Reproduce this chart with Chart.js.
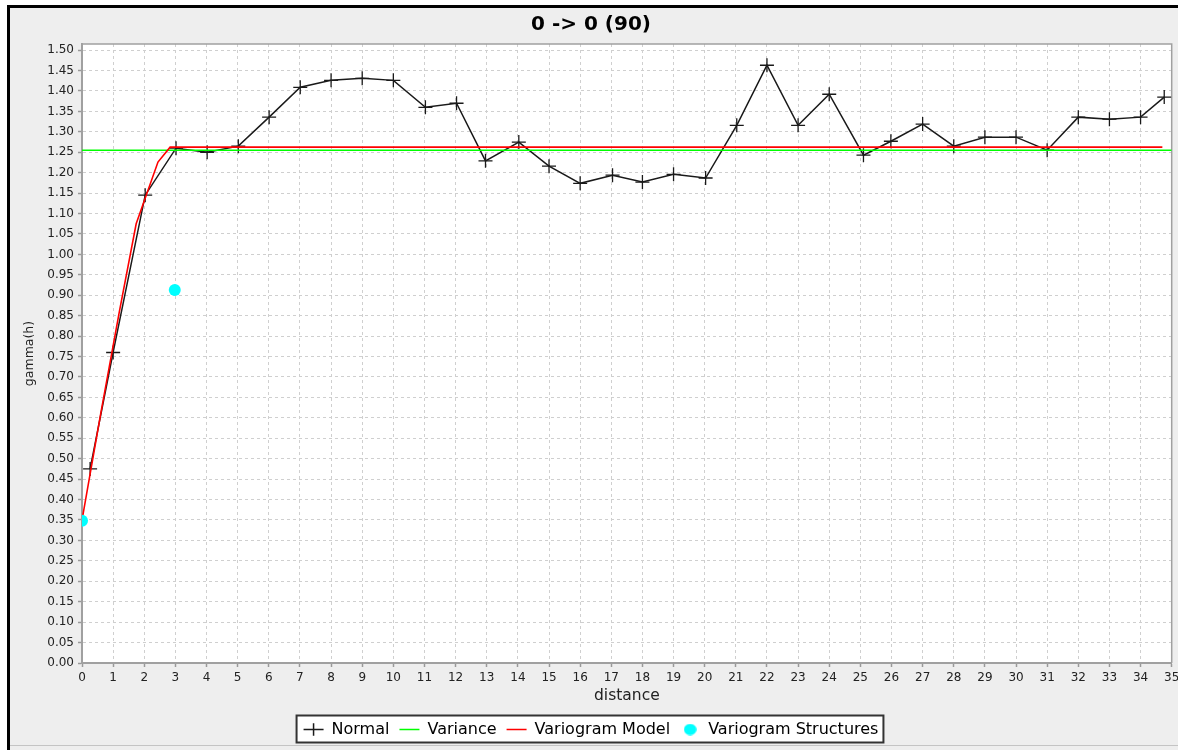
<!DOCTYPE html>
<html>
<head>
<meta charset="utf-8">
<title>Variogram 0 -> 0 (90)</title>
<script src="https://cdn.jsdelivr.net/npm/chart.js@4.4.1/dist/chart.umd.min.js"></script>
<style>
    html, body { margin: 0; padding: 0; background: #ffffff; }
    #frame {
        position: absolute; left: 7px; top: 5px;
        width: 1168px; height: 742px;
        border-left: 3px solid #000; border-top: 3px solid #000;
        background: #eeeeee; overflow: hidden;
    }
    #bottomLine { position: absolute; left: 0; top: 737px; width: 1168px; height: 1px; background: #c4c4c4; }
    #chart { position: absolute; left: 0; top: 0; }
</style>
</head>
<body>
<div id="frame">
    <div id="bottomLine"></div>
    <canvas id="chart" width="1170" height="742"></canvas>
</div>
<script>
// Experimental variogram (lag distance / gamma)
const lagDistance = [0.26, 1.0, 2.03, 3.02, 4.02, 5.02, 6.01, 7.01, 8.0, 9.0, 10.0, 11.03,
    12.03, 12.96, 14.03, 15.0, 16.0, 17.04, 18.0, 19.0, 20.03, 21.03, 22.0, 23.0,
    24.0, 25.1, 25.98, 27.0, 28.0, 29.0, 30.0, 31.0, 32.0, 33.0, 34.0, 34.76];
const gammaNormal = [0.475, 0.76, 1.145, 1.26, 1.25, 1.265, 1.336, 1.409, 1.426, 1.431, 1.426, 1.36,
    1.37, 1.229, 1.275, 1.216, 1.174, 1.194, 1.177, 1.196, 1.187, 1.316, 1.463, 1.316,
    1.392, 1.243, 1.277, 1.319, 1.265, 1.287, 1.287, 1.255, 1.336, 1.331, 1.336, 1.385];

// Sample variance
const varianceX = [0, 35];
const varianceY = [1.255, 1.255];

// Fitted model curve
const modelX = [0, 0.6, 1.2, 1.74, 2.44, 2.83, 34.7];
const modelY = [0.35, 0.61, 0.86, 1.075, 1.226, 1.2625, 1.2625];

// Structure markers
const structureX = [0, 2.98];
const structureY = [0.348, 0.913];

// Axis ticks
const xTickStep = 1;
const yTickStep = 0.05;
const yTickCount = 31; // 0.00 .. 1.50

const seriesLabels = ['Normal', 'Variance', 'Variogram Model', 'Variogram Structures'];

Chart.defaults.font.family = "'DejaVu Sans', sans-serif";
Chart.defaults.color = '#222';

function toPoints(xs, ys) {
    return xs.map((x, i) => ({ x: x, y: ys[i] }));
}

// small cyan dot for the legend
const dotIcon = document.createElement('canvas');
dotIcon.width = 13;
dotIcon.height = 12;
(function () {
    const c = dotIcon.getContext('2d');
    c.fillStyle = '#00ffff';
    c.beginPath();
    c.ellipse(6.5, 6, 6.3, 5.8, 0, 0, Math.PI * 2);
    c.fill();
})();

// white plot background, legend box, top/right frame
const plotFrame = {
    id: 'plotFrame',
    beforeDraw(chart) {
        const { ctx, chartArea: a } = chart;
        ctx.save();
        ctx.fillStyle = '#ffffff';
        ctx.fillRect(a.left, a.top, a.right - a.left, a.bottom - a.top);

        const boxes = chart.legend.legendHitBoxes;
        if (boxes && boxes.length) {
            const left = Math.min(...boxes.map(b => b.left)) - 7;
            const right = Math.max(...boxes.map(b => b.left + b.width)) + 5;
            const top = boxes[0].top - 6;
            const bottom = boxes[0].top + boxes[0].height + 5;
            ctx.fillStyle = '#ffffff';
            ctx.fillRect(left, top, right - left, bottom - top);
            ctx.strokeStyle = '#333';
            ctx.lineWidth = 2;
            ctx.strokeRect(left, top, right - left, bottom - top);
        }
        ctx.restore();
    },
    beforeDatasetsDraw(chart) {
        const { ctx, chartArea: a } = chart;
        ctx.save();
        ctx.strokeStyle = '#a0a0a0';
        ctx.lineWidth = 1.5;
        ctx.beginPath();
        ctx.moveTo(a.left, a.top);
        ctx.lineTo(a.right, a.top);
        ctx.lineTo(a.right, a.bottom);
        ctx.stroke();
        ctx.restore();
    }
};

const legendStyles = ['cross', 'line', 'line', dotIcon];

new Chart(document.getElementById('chart'), {
    type: 'scatter',
    data: {
        datasets: [
            {
                label: seriesLabels[0],
                data: toPoints(lagDistance, gammaNormal),
                showLine: true,
                borderColor: '#1a1a1a',
                backgroundColor: '#1a1a1a',
                borderWidth: 1.5,
                pointStyle: 'cross',
                pointRadius: 7,
                pointHoverRadius: 7,
                pointBorderWidth: 1.3,
                order: 3
            },
            {
                label: seriesLabels[1],
                data: toPoints(varianceX, varianceY),
                showLine: true,
                borderColor: '#00ff00',
                backgroundColor: '#00ff00',
                borderWidth: 1.6,
                pointRadius: 0,
                pointHoverRadius: 0,
                order: 2
            },
            {
                label: seriesLabels[2],
                data: toPoints(modelX, modelY),
                showLine: true,
                borderColor: '#ff0000',
                backgroundColor: '#ff0000',
                borderWidth: 1.6,
                pointRadius: 0,
                pointHoverRadius: 0,
                order: 1
            },
            {
                label: seriesLabels[3],
                data: toPoints(structureX, structureY),
                showLine: false,
                borderColor: '#00ffff',
                backgroundColor: '#00ffff',
                pointStyle: 'circle',
                pointRadius: 6,
                pointHoverRadius: 6,
                borderWidth: 0,
                clip: 0,
                order: 0
            }
        ]
    },
    options: {
        responsive: false,
        animation: false,
        layout: {
            padding: { left: 0, right: 8, top: 0, bottom: 2.5 }
        },
        scales: {
            x: {
                type: 'linear',
                min: 0,
                max: 35,
                afterFit: (scale) => {
                    scale.height = 48.5;
                    scale.paddingRight = 0;
                },
                ticks: {
                    stepSize: xTickStep,
                    maxRotation: 0,
                    autoSkip: false,
                    padding: 4,
                    color: '#222',
                    font: { size: 12 }
                },
                grid: {
                    color: '#cfcfcf',
                    lineWidth: 1,
                    tickLength: 4,
                    tickColor: '#999',
                    tickWidth: 1.5
                },
                border: { display: true, color: '#a0a0a0', width: 2, dash: [3, 3] },
                title: {
                    display: true,
                    text: 'distance',
                    color: '#222',
                    font: { size: 15.5 },
                    padding: { top: 0, bottom: 6 }
                }
            },
            y: {
                type: 'linear',
                min: 0,
                max: 1.515,
                afterFit: (scale) => { scale.width = 72; },
                afterBuildTicks: (scale) => {
                    const ticks = [];
                    for (let i = 0; i < yTickCount; i++) {
                        ticks.push({ value: +(i * yTickStep).toFixed(2) });
                    }
                    scale.ticks = ticks;
                },
                ticks: {
                    stepSize: yTickStep,
                    autoSkip: false,
                    padding: 4,
                    color: '#222',
                    font: { size: 12 },
                    callback: (v) => Number(v).toFixed(2)
                },
                grid: {
                    color: '#cfcfcf',
                    lineWidth: 1,
                    tickLength: 4,
                    tickColor: '#999',
                    tickWidth: 1.5
                },
                border: { display: true, color: '#a0a0a0', width: 2, dash: [3, 3] },
                title: {
                    display: true,
                    text: 'gamma(h)',
                    color: '#222',
                    font: { size: 12.5 },
                    padding: { top: 12.5, bottom: 0 }
                }
            }
        },
        plugins: {
            title: {
                display: true,
                text: '0 -> 0 (90)',
                color: '#000',
                font: { size: 20, weight: 'bold' },
                padding: { top: 5, bottom: 7 }
            },
            legend: {
                display: true,
                position: 'bottom',
                labels: {
                    usePointStyle: true,
                    boxHeight: 9,
                    pointStyleWidth: 20,
                    padding: 10,
                    color: '#000',
                    font: { size: 16 },
                    generateLabels: (chart) => chart.data.datasets.map((ds, i) => ({
                        text: ds.label,
                        datasetIndex: i,
                        pointStyle: legendStyles[i],
                        fillStyle: ds.backgroundColor,
                        strokeStyle: ds.borderColor,
                        lineWidth: 1.5,
                        hidden: false,
                        fontColor: '#000'
                    }))
                }
            },
            tooltip: { enabled: false }
        }
    },
    plugins: [plotFrame]
});
</script>
</body>
</html>
